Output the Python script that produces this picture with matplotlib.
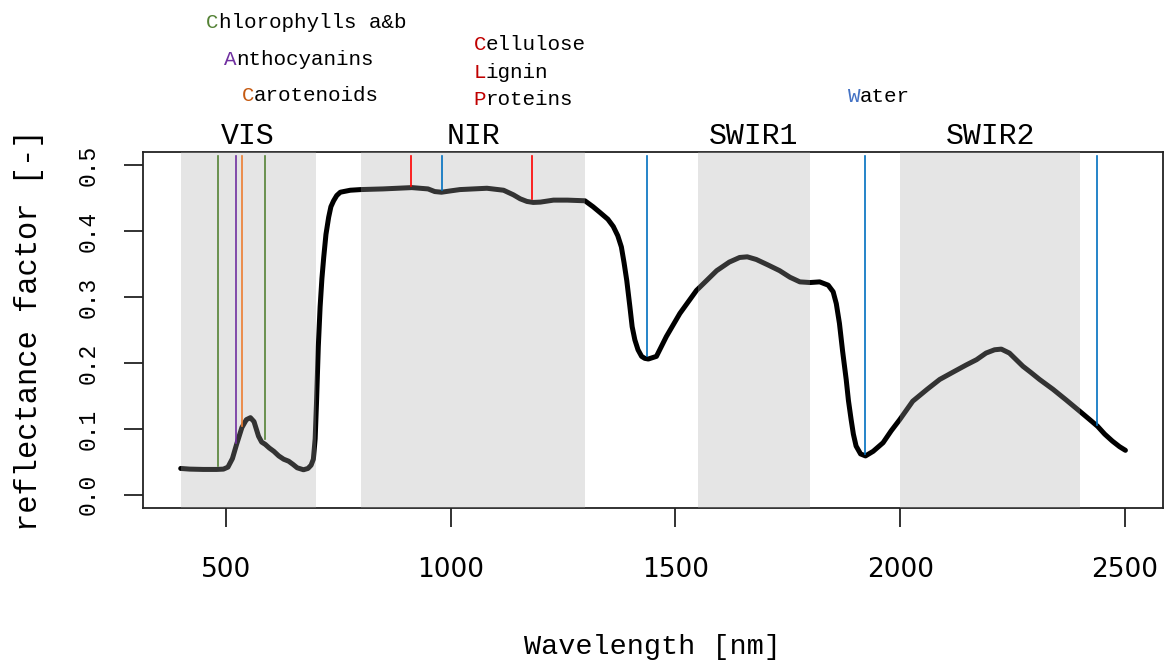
import numpy as np
import matplotlib
matplotlib.use('Agg')
import matplotlib.pyplot as plt

plt.rcParams['font.family'] = ['Liberation Mono', 'DejaVu Sans Mono']

# reflectance spectrum
wavelength = [400, 420, 450, 480, 495, 505, 515, 524, 536, 546, 555, 563, 573, 580,
              588, 597, 607, 618, 629, 640, 650, 659, 673, 683, 690, 695, 699, 702,
              706, 710, 714, 718, 723, 729, 734, 740, 747, 755, 777, 800, 850, 914,
              950, 965, 980, 1000, 1021, 1081, 1118, 1140, 1155, 1170, 1184, 1200,
              1229, 1260, 1299, 1317, 1332, 1350, 1362, 1372, 1380, 1386, 1392, 1399,
              1404, 1410, 1417, 1425, 1432, 1440, 1458, 1480, 1510, 1547, 1592, 1620,
              1643, 1660, 1680, 1705, 1732, 1755, 1777, 1800, 1821, 1840, 1851, 1858,
              1865, 1872, 1880, 1885, 1891, 1896, 1902, 1912, 1923, 1940, 1962, 1980,
              1999, 2028, 2060, 2088, 2120, 2147, 2170, 2191, 2210, 2225, 2243, 2258,
              2273, 2290, 2310, 2340, 2369, 2399, 2420, 2439, 2455, 2472, 2488, 2501]
reflectance = [0.040, 0.039, 0.0385, 0.0385, 0.039, 0.042, 0.055, 0.076, 0.102, 0.114,
               0.117, 0.111, 0.089, 0.080, 0.0765, 0.071, 0.066, 0.059, 0.054, 0.051,
               0.046, 0.041, 0.038, 0.040, 0.045, 0.054, 0.085, 0.140, 0.225, 0.285,
               0.328, 0.360, 0.395, 0.421, 0.437, 0.446, 0.454, 0.459, 0.462, 0.463,
               0.464, 0.466, 0.464, 0.460, 0.459, 0.461, 0.463, 0.465, 0.462, 0.455,
               0.449, 0.445, 0.4435, 0.444, 0.447, 0.447, 0.446, 0.437, 0.4285, 0.418,
               0.407, 0.393, 0.376, 0.352, 0.325, 0.285, 0.255, 0.235, 0.220, 0.210,
               0.207, 0.206, 0.210, 0.240, 0.275, 0.310, 0.340, 0.353, 0.360, 0.361,
               0.357, 0.349, 0.340, 0.330, 0.323, 0.322, 0.323, 0.318, 0.308, 0.290,
               0.260, 0.218, 0.175, 0.143, 0.114, 0.092, 0.074, 0.062, 0.059, 0.066,
               0.079, 0.097, 0.114, 0.142, 0.160, 0.175, 0.187, 0.197, 0.205, 0.215,
               0.220, 0.221, 0.215, 0.205, 0.195, 0.186, 0.175, 0.160, 0.144, 0.127,
               0.115, 0.104, 0.092, 0.0815, 0.073, 0.0675]

# spectral regions
band_names = ['VIS', 'NIR', 'SWIR1', 'SWIR2']
band_start = [400, 800, 1550, 2000]
band_end = [700, 1300, 1800, 2400]

# absorption features: wavelength, where the marker stops, colour
feat_wl = [482, 587, 523, 536, 912, 982, 1181, 1438, 1922, 2438]
feat_end = [0.044, 0.085, 0.078, 0.104, 0.469, 0.463, 0.448, 0.210, 0.062, 0.106]
feat_col = ['#548235', '#548235', '#7030a0', '#ed7d31', '#ff0000', '#0070c0',
            '#ff0000', '#0070c0', '#0070c0', '#0070c0']

# labels above the plot
lab_text = ['Chlorophylls a&b', 'Anthocyanins', 'Carotenoids',
            'Cellulose', 'Lignin', 'Proteins', 'Water']
lab_col = ['#548235', '#7030a0', '#c55a11', '#c00000', '#c00000', '#c00000', '#4472c4']
lab_x = [457, 496, 535, 1051, 1051, 1051, 1883]
lab_y = [0.7086, 0.6524, 0.597, 0.675, 0.632, 0.592, 0.5955]

fig = plt.figure(figsize=(11.66, 6.6), dpi=100)
ax = fig.add_axes([0.1226, 0.2303, 0.8746, 0.5394])

ax.plot(wavelength, reflectance, color='black', lw=3.6, solid_capstyle='round',
        solid_joinstyle='round', zorder=2)

for s, e in zip(band_start, band_end):
    ax.axvspan(s, e, color='#aaaaaa', alpha=0.3, lw=0, zorder=3)

for w, e, c in zip(feat_wl, feat_end, feat_col):
    ax.plot([w, w], [e, 0.514], color=c, lw=1.2, zorder=4)

for name, s, e in zip(band_names, band_start, band_end):
    ax.text((s + e) / 2, 0.5317, name, ha='center', va='baseline', fontsize=21.5,
            clip_on=False)

fs = 15
for t, c, x, y in zip(lab_text, lab_col, lab_x, lab_y):
    ax.text(x, y, t[0], color=c, ha='left', va='baseline', fontsize=fs, clip_on=False)
    # monospace: the rest starts one character width further
    ax.annotate(t[1:], xy=(x, y), xytext=(0.6 * fs, 0), textcoords='offset points',
                color='black', ha='left', va='baseline', fontsize=fs,
                annotation_clip=False)

ax.set_xlim(316, 2584)
ax.set_ylim(-0.02, 0.52)
ax.set_xticks([500, 1000, 1500, 2000, 2500])
ax.set_yticks([0.0, 0.1, 0.2, 0.3, 0.4, 0.5])
ax.set_yticklabels(['0.0', '0.1', '0.2', '0.3', '0.4', '0.5'], rotation=90,
                   va='center', fontsize=16.5)
for lab in ax.get_xticklabels():
    lab.set_fontfamily('DejaVu Sans')
    lab.set_fontsize(19)
ax.tick_params(axis='both', direction='out', length=14, width=1.3, color='#222222')
ax.tick_params(axis='x', pad=21)
ax.tick_params(axis='y', pad=17)
for sp in ax.spines.values():
    sp.set_linewidth(1.3)
    sp.set_color('#222222')

ax.set_xlabel('Wavelength [nm]', fontsize=20.5, labelpad=37)
ax.set_ylabel('reflectance factor [-]', fontsize=22, labelpad=24)

fig.savefig('out.png', dpi=100)
